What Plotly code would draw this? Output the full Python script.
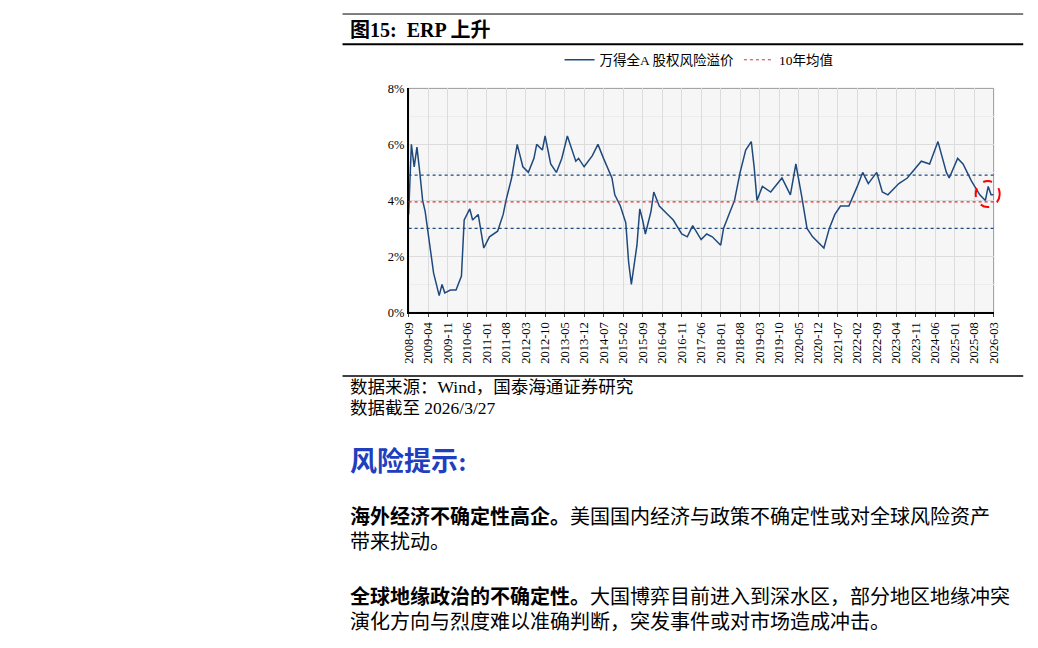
import plotly.graph_objects as go

dates = ["2008-09","2008-10","2008-11","2008-12","2009-01","2009-02","2009-03","2009-04","2009-06","2009-08",
 "2009-09","2009-10","2009-12","2010-02","2010-04","2010-05","2010-07","2010-08","2010-10","2010-12",
 "2011-02","2011-05","2011-07","2011-08","2011-10","2011-12","2012-02","2012-04","2012-06","2012-07",
 "2012-09","2012-10","2012-12","2013-02","2013-04","2013-06","2013-09","2013-10","2013-12","2014-03",
 "2014-05","2014-07","2014-10","2014-11","2015-01","2015-03","2015-04","2015-05","2015-07","2015-08",
 "2015-09","2015-10","2015-12","2016-01","2016-03","2016-06","2016-08","2016-11","2017-01","2017-03",
 "2017-06","2017-08","2017-10","2018-01","2018-02","2018-04","2018-06","2018-08","2018-10","2018-12",
 "2019-01","2019-02","2019-04","2019-07","2019-11","2020-02","2020-04","2020-06","2020-08","2020-10",
 "2020-12","2021-02","2021-04","2021-06","2021-08","2021-11","2022-02","2022-04","2022-06","2022-09",
 "2022-11","2023-01","2023-05","2023-08","2024-01","2024-04","2024-07","2024-10","2024-11","2025-02",
 "2025-04","2025-07","2025-10","2025-12","2026-01","2026-02","2026-03"]
erp = [3.5,6.0,5.2,5.9,5.0,4.0,3.6,2.8,1.4,0.6,
 1.0,0.7,0.8,0.8,1.3,3.3,3.7,3.3,3.5,2.3,
 2.7,2.9,3.5,4.0,4.8,6.0,5.2,5.0,5.5,6.0,
 5.8,6.3,5.3,5.0,5.5,6.3,5.4,5.5,5.2,5.6,
 6.0,5.5,4.8,4.2,3.8,3.2,1.8,1.0,2.4,3.7,
 3.3,2.8,3.6,4.3,3.8,3.5,3.3,2.8,2.7,3.1,
 2.6,2.8,2.7,2.4,3.0,3.5,4.0,5.0,5.8,6.1,
 5.2,4.0,4.5,4.3,4.8,4.2,5.3,4.2,3.0,2.7,
 2.5,2.3,3.0,3.5,3.8,3.8,4.5,5.0,4.6,5.0,
 4.3,4.2,4.6,4.8,5.4,5.3,6.1,5.0,4.8,5.5,
 5.3,4.7,4.2,4.0,4.5,4.2,4.2]
erp = [v / 100 for v in erp]
tick_months = ["2008-09","2009-04","2009-11","2010-06","2011-01","2011-08","2012-03","2012-10","2013-05",
 "2013-12","2014-07","2015-02","2015-09","2016-04","2016-11","2017-06","2018-01","2018-08","2019-03",
 "2019-10","2020-05","2020-12","2021-07","2022-02","2022-09","2023-04","2023-11","2024-06","2025-01",
 "2025-08","2026-03"]
MEAN, UPPER, LOWER = 0.0395, 0.049, 0.030

W, H = 1038, 648
DX, DY = 8, 12  # page offset compensation
def px(v): return (v - DX) / W
def py(v): return 1 - (v - DY) / H

FONT = "Liberation Serif, Noto Sans CJK SC"
x = [d + "-01" for d in dates]
fig = go.Figure()
fig.add_trace(go.Scatter(x=x, y=erp, mode="lines", line=dict(color="#1f497d", width=1.5),
                         name="万得全A 股权风险溢价"))
fig.add_trace(go.Scatter(x=[None], y=[None], mode="lines", line=dict(color="#e03030", width=1, dash="dot"),
                         name="10年均值"))
for val, col in [(MEAN, "#e03030"), (UPPER, "#1f497d"), (LOWER, "#1f497d")]:
    fig.add_shape(type="line", xref="x domain", yref="y", x0=0, x1=1, y0=val, y1=val,
                  line=dict(color=col, width=1.2, dash="dot"))
fig.add_shape(type="circle", xref="paper", yref="paper", xsizemode="pixel", ysizemode="pixel",
              xanchor=px(994), yanchor=py(195), x0=-12, x1=12, y0=-13, y1=13,
              line=dict(color="red", width=2, dash="dash"))

fig.update_xaxes(domain=[px(407), px(1000)], range=["2008-09-01", "2026-03-01"], type="date",
                 tickvals=[t + "-01" for t in tick_months], ticktext=tick_months, tickangle=-90,
                 tickfont=dict(size=12.5, family=FONT, color="black"), showgrid=True, gridcolor="#dcdcdc",
                 showline=True, linecolor="black", linewidth=1.5, ticks="outside", ticklen=3)
fig.update_yaxes(domain=[py(316), py(87)], range=[0, 0.08], dtick=0.02, tickformat=".0%",
                 tickfont=dict(size=12.5, family=FONT, color="black"), showgrid=True, gridcolor="#dcdcdc",
                 minor=dict(dtick=0.01, showgrid=True, gridcolor="#ececec"),
                 showline=True, linecolor="black", linewidth=1.5, zeroline=False)
fig.add_shape(type="rect", xref="x domain", yref="y domain", x0=0, x1=1, y0=0, y1=1,
              line=dict(color="#999", width=1), layer="below")

texts = [
    (346, 27, "<b>图15:  ERP 上升</b>", 20, "black"),
    (346, 392, "数据来源：Wind，国泰海通证券研究", 17.5, "black"),
    (346, 414, "数据截至 2026/3/27", 17.5, "black"),
    (346, 468, "<b>风险提示:</b>", 27, "#1f3fbf"),
    (346, 525, "<b>海外经济不确定性高企。</b>美国国内经济与政策不确定性或对全球风险资产", 20, "black"),
    (346, 551, "带来扰动。", 20, "black"),
    (346, 606, "<b>全球地缘政治的不确定性。</b>大国博弈目前进入到深水区，部分地区地缘冲突", 20, "black"),
    (346, 632, "演化方向与烈度难以准确判断，突发事件或对市场造成冲击。", 20, "black"),
]
for tx, ty, t, s, c in texts:
    fig.add_annotation(xref="paper", yref="paper", x=px(tx), y=py(ty), text=t, showarrow=False,
                       xanchor="left", yanchor="middle", font=dict(size=s, family=FONT, color=c))
for ly, w in [(11, 1), (42, 2), (381, 1.5)]:
    fig.add_shape(type="line", xref="paper", yref="paper", x0=px(340), x1=px(1030),
                  y0=py(ly), y1=py(ly), line=dict(color="black", width=w))

fig.update_layout(width=W, height=H, margin=dict(l=0, r=0, t=0, b=0),
                  paper_bgcolor="white", plot_bgcolor="#f6f6f6",
                  legend=dict(orientation="h", x=px(560), y=py(58), yanchor="middle", xanchor="left",
                              font=dict(size=13.5, family=FONT, color="black"), bgcolor="rgba(0,0,0,0)"),
                  font=dict(family=FONT))
fig.write_html("out.html")
